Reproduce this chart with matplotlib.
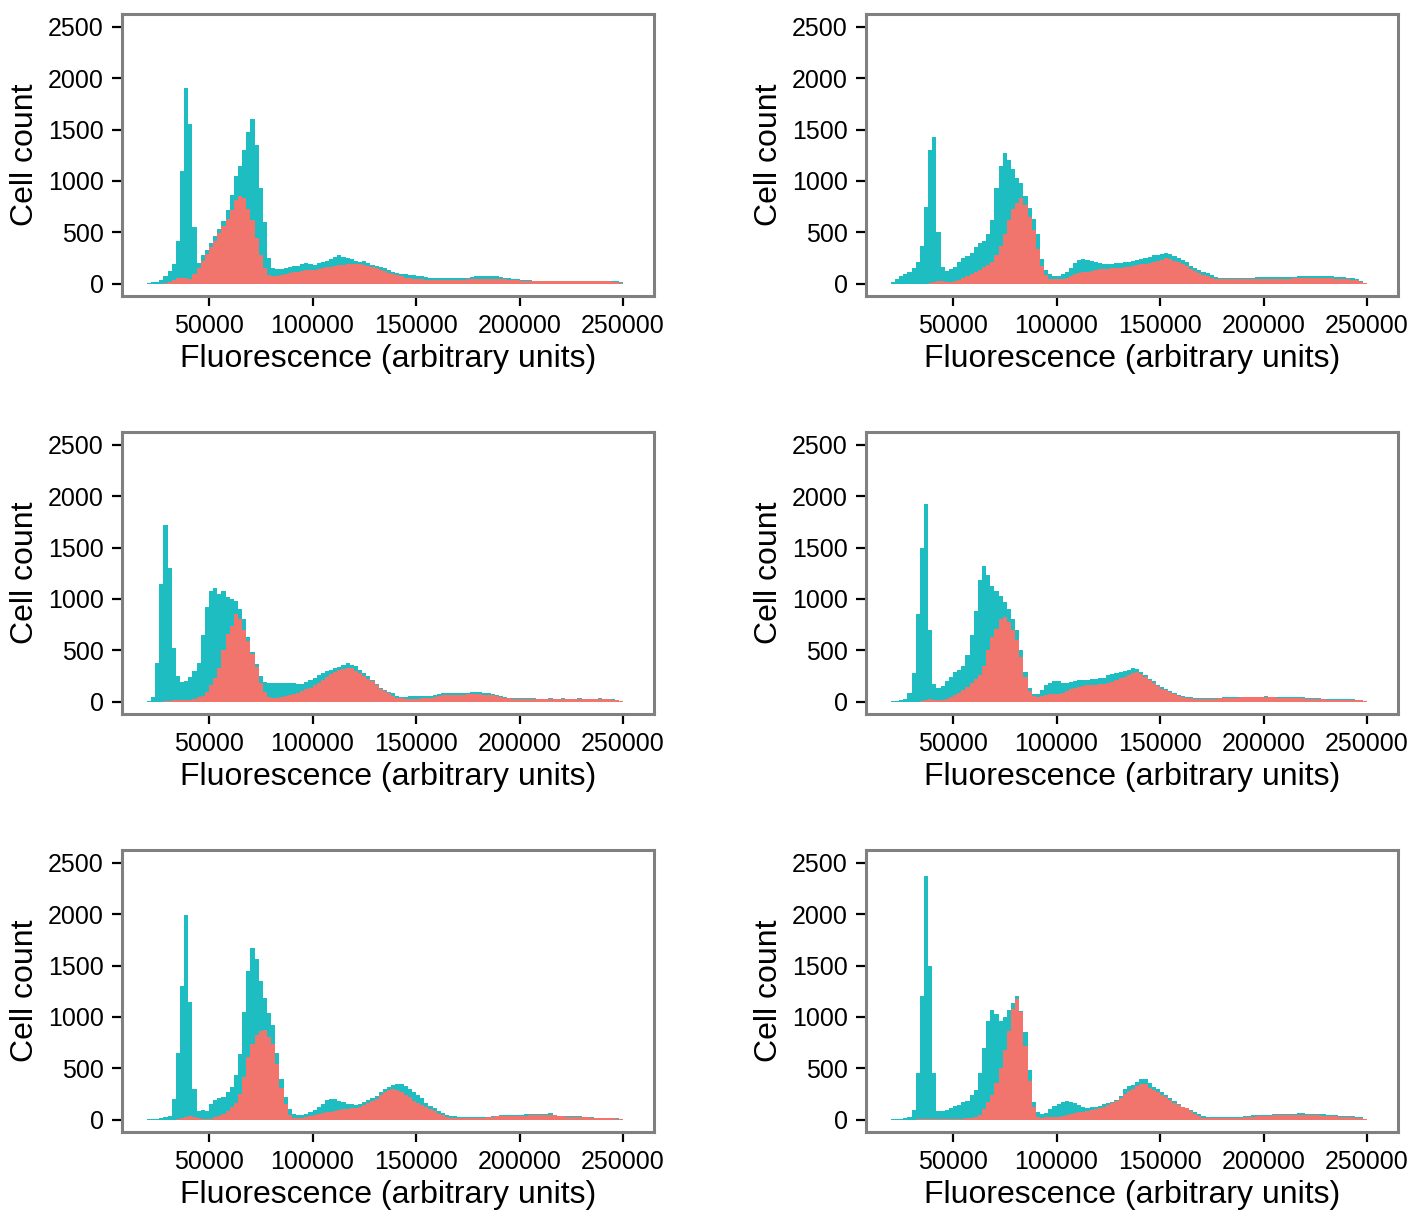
import numpy as np
import matplotlib
matplotlib.use('Agg')
import matplotlib.pyplot as plt

plt.rcParams['font.family'] = ['Liberation Sans', 'DejaVu Sans']

# histogram bins: 2000 wide starting at 20000 (115 bins)
bin_start = 20000
bin_width = 2000

# total cells (teal) and subset (salmon), one pair per panel
total_1 = [5, 12, 20, 35, 70, 120, 190, 420, 1100, 1900,
           1550, 550, 200, 280, 330, 400, 460, 530, 610, 720,
           860, 1050, 1150, 1300, 1480, 1600, 1350, 930, 600, 250,
           150, 140, 140, 150, 160, 170, 170, 190, 200, 190,
           180, 200, 210, 220, 240, 260, 280, 260, 250, 240,
           220, 210, 220, 200, 180, 170, 160, 150, 130, 115,
           100, 95, 90, 85, 80, 75, 70, 65, 60, 55,
           55, 55, 55, 55, 55, 55, 55, 60, 65, 70,
           75, 75, 75, 75, 70, 65, 60, 55, 50, 45,
           40, 35, 32, 30, 30, 30, 30, 30, 30, 30,
           30, 30, 30, 30, 30, 30, 30, 30, 30, 30,
           30, 30, 28, 25, 15]
subset_1 = [0, 0, 0, 0, 5, 20, 40, 55, 60, 55,
            45, 90, 150, 220, 290, 360, 420, 490, 560, 630,
            720, 810, 850, 830, 730, 620, 440, 280, 150, 80,
            70, 75, 80, 90, 100, 110, 115, 125, 130, 135,
            135, 145, 150, 160, 165, 170, 180, 185, 190, 195,
            195, 190, 185, 175, 165, 150, 135, 120, 105, 90,
            80, 70, 60, 55, 50, 45, 45, 40, 40, 40,
            40, 40, 40, 40, 40, 40, 40, 42, 45, 48,
            50, 50, 50, 50, 48, 45, 42, 40, 38, 35,
            30, 25, 22, 22, 22, 22, 22, 22, 22, 22,
            22, 22, 22, 22, 22, 22, 22, 22, 22, 22,
            22, 22, 20, 18, 10]

total_2 = [15, 45, 70, 90, 115, 150, 210, 370, 750, 1300,
           1430, 500, 160, 120, 145, 160, 210, 250, 270, 300,
           360, 400, 420, 480, 620, 930, 1150, 1270, 1200, 1120,
           1030, 980, 850, 740, 630, 480, 240, 130, 90, 75,
           75, 90, 110, 150, 200, 230, 240, 235, 225, 210,
           200, 195, 195, 195, 200, 205, 210, 215, 220, 230,
           240, 250, 260, 275, 280, 290, 300, 290, 270, 250,
           230, 210, 170, 150, 130, 110, 100, 80, 65, 60,
           58, 58, 55, 55, 55, 55, 55, 60, 62, 62,
           65, 65, 65, 65, 65, 65, 68, 68, 70, 70,
           70, 75, 75, 75, 72, 70, 70, 68, 65, 65,
           60, 55, 45, 25, 5]
subset_2 = [0, 0, 0, 0, 0, 0, 0, 0, 0, 5,
            15, 25, 25, 20, 20, 30, 40, 55, 70, 95,
            115, 135, 160, 185, 210, 280, 370, 480, 620, 730,
            790, 830, 770, 650, 520, 340, 170, 80, 50, 45,
            45, 50, 60, 75, 90, 100, 110, 115, 125, 130,
            140, 140, 145, 150, 150, 155, 160, 165, 175, 180,
            190, 195, 205, 215, 225, 235, 250, 240, 225, 210,
            195, 175, 145, 125, 105, 85, 70, 55, 48, 45,
            45, 45, 45, 45, 45, 45, 45, 45, 48, 48,
            48, 48, 50, 50, 50, 50, 50, 52, 55, 55,
            55, 55, 55, 55, 55, 55, 55, 50, 50, 48,
            45, 40, 35, 20, 3]

total_3 = [10, 50, 380, 1150, 1720, 1300, 520, 250, 190, 200,
           240, 300, 380, 650, 920, 1080, 1110, 1050, 1080, 1020,
           1000, 980, 900, 800, 630, 480, 370, 250, 190, 180,
           185, 180, 180, 185, 185, 180, 175, 170, 190, 210,
           230, 260, 280, 300, 310, 325, 340, 360, 380, 360,
           345, 310, 280, 250, 210, 170, 130, 110, 95, 80,
           60, 50, 50, 52, 55, 52, 52, 55, 58, 68,
           75, 80, 80, 82, 82, 82, 85, 88, 90, 92,
           90, 85, 80, 75, 65, 55, 45, 40, 35, 35,
           35, 32, 32, 32, 30, 30, 30, 32, 30, 30,
           32, 30, 30, 30, 32, 30, 30, 30, 30, 32,
           30, 28, 25, 20, 5]
subset_3 = [0, 0, 0, 0, 5, 10, 15, 15, 15, 15,
            20, 30, 45, 60, 90, 160, 230, 330, 500, 660,
            740, 850, 800, 700, 590, 460, 340, 180, 90, 50,
            35, 38, 50, 60, 65, 75, 85, 100, 120, 135,
            160, 185, 210, 240, 270, 290, 310, 320, 330, 325,
            300, 275, 250, 225, 200, 160, 125, 100, 80, 55,
            40, 35, 30, 30, 30, 30, 32, 35, 40, 50,
            60, 65, 65, 65, 65, 68, 68, 70, 70, 70,
            70, 68, 65, 62, 55, 45, 38, 32, 30, 28,
            25, 25, 25, 25, 25, 25, 25, 25, 25, 25,
            25, 25, 25, 25, 25, 25, 25, 25, 25, 25,
            25, 22, 20, 15, 3]

total_4 = [5, 8, 12, 25, 80, 280, 850, 1500, 1920, 700,
           170, 130, 150, 200, 240, 290, 310, 350, 450, 650,
           880, 1180, 1320, 1230, 1130, 1080, 1030, 970, 900, 800,
           700, 500, 290, 130, 75, 75, 110, 160, 185, 205,
           200, 185, 185, 195, 200, 210, 210, 215, 220, 225,
           230, 230, 260, 270, 280, 285, 295, 310, 330, 320,
           290, 260, 225, 200, 165, 140, 125, 105, 85, 65,
           55, 45, 42, 40, 40, 40, 40, 40, 35, 40,
           42, 42, 45, 45, 48, 50, 50, 50, 50, 50,
           52, 50, 50, 50, 48, 48, 50, 45, 45, 42,
           40, 38, 35, 32, 30, 28, 25, 25, 22, 22,
           22, 22, 20, 18, 5]
subset_4 = [0, 0, 0, 0, 0, 0, 0, 5, 20, 30,
            20, 15, 15, 25, 50, 65, 80, 110, 145, 180,
            220, 260, 350, 500, 630, 710, 800, 820, 780, 700,
            600, 430, 240, 100, 55, 50, 55, 65, 70, 72,
            75, 85, 100, 120, 135, 145, 155, 160, 165, 165,
            170, 175, 185, 195, 215, 230, 245, 260, 280, 290,
            265, 240, 210, 185, 150, 125, 110, 90, 70, 55,
            45, 35, 32, 30, 30, 30, 30, 30, 28, 32,
            35, 38, 40, 40, 42, 42, 42, 42, 42, 42,
            45, 42, 42, 40, 40, 40, 38, 35, 35, 32,
            30, 28, 25, 25, 22, 20, 18, 18, 18, 18,
            16, 16, 15, 12, 3]

total_5 = [3, 5, 8, 15, 25, 40, 200, 650, 1300, 1990,
           1150, 300, 80, 95, 80, 150, 195, 210, 225, 265,
           320, 430, 640, 1050, 1450, 1670, 1560, 1350, 1180, 1040,
           920, 650, 400, 220, 100, 55, 45, 50, 60, 75,
           95, 120, 150, 190, 205, 200, 185, 175, 155, 150,
           145, 155, 175, 195, 215, 235, 270, 300, 320, 335,
           350, 345, 325, 300, 270, 240, 210, 165, 130, 110,
           85, 65, 45, 35, 32, 30, 30, 30, 30, 30,
           30, 30, 30, 35, 40, 45, 48, 50, 50, 50,
           50, 52, 55, 55, 55, 58, 60, 65, 50, 40,
           35, 35, 35, 32, 32, 30, 28, 22, 20, 18,
           15, 15, 15, 12, 3]
subset_5 = [0, 0, 0, 0, 0, 0, 0, 5, 15, 25,
            40, 30, 15, 10, 8, 10, 25, 40, 55, 85,
            125, 165, 250, 420, 610, 740, 820, 860, 870, 800,
            740, 540, 310, 150, 50, 15, 15, 18, 25, 40,
            50, 60, 65, 70, 75, 80, 90, 100, 105, 110,
            115, 125, 140, 160, 185, 205, 240, 265, 285, 295,
            290, 270, 245, 220, 185, 165, 145, 125, 105, 85,
            60, 45, 25, 15, 15, 15, 15, 15, 15, 15,
            18, 20, 22, 28, 32, 35, 35, 38, 38, 40,
            40, 40, 42, 42, 45, 45, 45, 50, 42, 35,
            32, 30, 28, 28, 25, 25, 22, 18, 15, 15,
            12, 12, 12, 10, 3]

total_6 = [3, 5, 8, 15, 30, 90, 450, 1200, 2370, 1500,
           450, 80, 80, 95, 110, 130, 145, 170, 185, 240,
           290, 450, 700, 960, 1070, 1030, 960, 1000, 1070, 1140,
           1200, 1060, 850, 480, 170, 75, 55, 65, 100, 130,
           150, 170, 180, 170, 160, 145, 125, 115, 120, 125,
           135, 150, 160, 170, 190, 230, 300, 330, 340, 370,
           395, 400, 360, 320, 300, 270, 240, 210, 180, 150,
           125, 110, 95, 75, 55, 40, 30, 25, 22, 22,
           22, 22, 22, 25, 28, 35, 40, 42, 45, 48,
           50, 50, 52, 55, 55, 58, 60, 60, 62, 62,
           60, 58, 55, 55, 52, 50, 48, 45, 40, 38,
           35, 32, 28, 22, 5]
subset_6 = [0, 0, 0, 0, 0, 0, 2, 3, 3, 3,
            3, 3, 3, 5, 5, 5, 8, 10, 12, 15,
            30, 50, 100, 170, 240, 360, 500, 680, 860, 1080,
            1170, 1050, 720, 380, 120, 30, 15, 25, 30, 30,
            30, 40, 50, 60, 65, 70, 75, 85, 95, 105,
            115, 125, 140, 160, 185, 215, 250, 280, 300, 330,
            350, 345, 310, 290, 270, 240, 220, 190, 165, 145,
            125, 110, 85, 60, 35, 20, 15, 15, 15, 15,
            15, 15, 15, 18, 20, 25, 28, 30, 32, 35,
            38, 40, 42, 42, 42, 45, 45, 45, 48, 48,
            45, 45, 42, 42, 40, 38, 38, 35, 30, 28,
            25, 22, 20, 15, 3]

totals = [total_1, total_2, total_3, total_4, total_5, total_6]
subsets = [subset_1, subset_2, subset_3, subset_4, subset_5, subset_6]

x_ticks = [50000, 100000, 150000, 200000, 250000]
y_ticks = [0, 500, 1000, 1500, 2000, 2500]

teal = '#1dbdc1'
salmon = '#f1756c'

W, H = 1414, 1212
fig = plt.figure(figsize=(W / 100, H / 100), dpi=100)

lefts = [122, 866]
tops = [14, 432, 850]
pw, ph = 532, 282

for i in range(6):
    r, c = i // 2, i % 2
    ax = fig.add_axes([lefts[c] / W, 1 - (tops[r] + ph) / H, pw / W, ph / H])
    edges = bin_start + bin_width * np.arange(len(totals[i]) + 1)
    ax.stairs(totals[i], edges, fill=True, color=teal, linewidth=0)
    ax.stairs(subsets[i], edges, fill=True, color=salmon, linewidth=0)

    ax.set_xlim(7970, 264976)
    ax.set_ylim(-120, 2625)
    ax.set_xticks(x_ticks)
    ax.set_yticks(y_ticks)
    ax.set_xticklabels([str(t) for t in x_ticks])
    ax.set_yticklabels([str(t) for t in y_ticks])
    for s in ax.spines.values():
        s.set_color('#808080')
        s.set_linewidth(2.2)
    ax.tick_params(direction='out', length=7, width=1.6, color='black',
                   labelsize=18, pad=6, labelcolor='black')
    ax.set_xlabel('Fluorescence (arbitrary units)', fontsize=23, labelpad=4)
    ax.set_ylabel('Cell count', fontsize=23, labelpad=6)

fig.savefig('out.png', dpi=100)
